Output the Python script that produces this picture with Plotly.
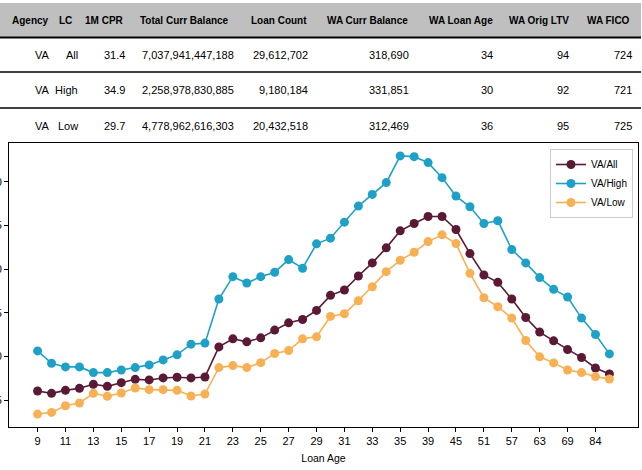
import plotly.graph_objects as go

###############################################################################
# VA 1M CPR by loan age, with the summary table above the line chart
###############################################################################

# --- summary table ---
table_header = ['Agency', 'LC', '1M CPR', 'Total Curr Balance', 'Loan Count',
                'WA Curr Balance', 'WA Loan Age', 'WA Orig LTV', 'WA FICO']
agency = ['VA', 'VA', 'VA']
lc = ['All', 'High', 'Low']
cpr_1m = ['31.4', '34.9', '29.7']
total_curr_balance = ['7,037,941,447,188', '2,258,978,830,885', '4,778,962,616,303']
loan_count = ['29,612,702', '9,180,184', '20,432,518']
wa_curr_balance = ['318,690', '331,851', '312,469']
wa_loan_age = ['34', '30', '36']
wa_orig_ltv = ['94', '92', '95']
wa_fico = ['724', '721', '725']

# --- line chart ---
loan_age = ['9', '10', '11', '12', '13', '14', '15', '16', '17', '18', '19', '20',
            '21', '22', '23', '24', '25', '26', '27', '28', '29', '30', '31', '32',
            '33', '34', '35', '36', '39', '42', '45', '48', '51', '54', '57', '60',
            '63', '66', '69', '72', '84', '96']
cpr_all = [16.07, 15.80, 16.14, 16.37, 16.83, 16.60, 17.02, 17.40, 17.33, 17.56,
           17.64, 17.56, 17.67, 21.11, 22.03, 21.69, 22.14, 23.03, 23.86, 24.24,
           25.28, 27.00, 27.61, 29.22, 30.71, 32.43, 34.38, 35.22, 36.02, 36.02,
           34.53, 31.78, 29.33, 28.49, 26.58, 24.47, 22.80, 21.80, 20.80, 19.89,
           18.70, 18.02]
cpr_high = [20.65, 19.24, 18.82, 18.82, 18.17, 18.17, 18.47, 18.74, 19.05, 19.62,
            20.20, 21.42, 21.54, 26.58, 29.14, 28.41, 29.14, 29.64, 31.09, 30.10,
            32.89, 33.54, 35.37, 37.21, 38.54, 39.89, 42.94, 42.86, 42.18, 40.46,
            38.35, 37.13, 35.22, 35.53, 32.24, 30.71, 29.03, 27.69, 26.81, 24.40,
            22.53, 20.31]
cpr_low = [13.43, 13.62, 14.38, 14.69, 15.80, 15.46, 15.84, 16.41, 16.22, 16.22,
           16.14, 15.49, 15.72, 18.74, 18.97, 18.74, 19.31, 20.35, 20.69, 22.03,
           22.26, 24.59, 24.90, 26.39, 27.99, 29.71, 31.01, 31.93, 33.15, 33.92,
           32.92, 29.52, 26.73, 25.70, 24.40, 21.84, 19.97, 19.28, 18.47, 18.17,
           17.71, 17.44]
series_names = ['VA/All', 'VA/High', 'VA/Low']
series_colors = ['#5a1a35', '#1fa0c6', '#f8b055']

FONT = 'Liberation Sans, Arial, sans-serif'
W, H = 642, 470
ML, MR, MT, MB = 9, 4, 0, 43


def px_x(x):
    # pixel -> paper coordinate (horizontal)
    return (x - ML) / (W - ML - MR)


def px_y(y):
    # pixel -> paper coordinate (vertical)
    return (H - MB - y) / (H - MT - MB)


def make_table():
    columns = [agency, lc, cpr_1m, total_curr_balance, loan_count,
               wa_curr_balance, wa_loan_age, wa_orig_ltv, wa_fico]
    head_right = [50, 73, 125, 230, 308, 409, 494, 570, 631]
    cell_right = [51, 79, 126, 235, 309, 410, 494, 570, 633]
    row_y = [55, 90, 126]

    annotations = []
    for h, xr in zip(table_header, head_right):
        annotations.append(dict(text='<b>%s</b>' % h, x=px_x(xr), y=px_y(20),
                                xref='paper', yref='paper', xanchor='right',
                                yanchor='middle', showarrow=False, borderpad=0,
                                font=dict(size=10, color='black')))
    for col, xr in zip(columns, cell_right):
        for v, yy in zip(col, row_y):
            annotations.append(dict(text=v, x=px_x(xr), y=px_y(yy),
                                    xref='paper', yref='paper', xanchor='right',
                                    yanchor='middle', showarrow=False, borderpad=0,
                                    font=dict(size=11, color='black')))

    shapes = [dict(type='rect', xref='paper', yref='paper', layer='below',
                   x0=px_x(0), x1=px_x(641), y0=px_y(37), y1=px_y(3),
                   fillcolor='#bfbfbf', line=dict(width=0))]
    for yy, lw in [(37.5, 2), (72, 1.5), (108, 1.5)]:
        shapes.append(dict(type='line', xref='paper', yref='paper',
                           x0=px_x(0), x1=px_x(641), y0=px_y(yy), y1=px_y(yy),
                           line=dict(color='black', width=lw)))
    return annotations, shapes


def make_lineplot():
    traces = [go.Scatter(x=loan_age, y=y, name=n, mode='lines+markers',
                         line=dict(color=c, width=1.6),
                         marker=dict(color=c, size=9))
              for y, n, c in zip([cpr_all, cpr_high, cpr_low], series_names, series_colors)]
    annotations, shapes = make_table()
    axis_style = dict(showline=True, mirror=True, linecolor='black', linewidth=1,
                      ticks='outside', ticklen=4, tickcolor='black',
                      showgrid=False, zeroline=False, automargin=False,
                      tickfont=dict(size=11, color='black'))
    layout = go.Layout(
        template='none',
        width=W, height=H,
        margin=dict(l=ML, r=MR, t=MT, b=MB),
        font=dict(family=FONT, color='black'),
        paper_bgcolor='white', plot_bgcolor='white',
        xaxis=dict(type='category', categoryorder='array', categoryarray=loan_age,
                   range=[-2.05, len(loan_age) + 1.05], tickmode='array',
                   tickvals=loan_age[::2],
                   title=dict(text='Loan Age', font=dict(size=10.5), standoff=8),
                   **axis_style),
        yaxis=dict(range=[11.95, 44.42], tick0=0, dtick=5,
                   domain=[0, px_y(143)], **axis_style),
        legend=dict(x=px_x(633), xanchor='right', y=px_y(149), yanchor='top',
                    bordercolor='#cccccc', borderwidth=1, bgcolor='white',
                    itemwidth=30, font=dict(size=10)),
        showlegend=True,
        annotations=annotations,
        shapes=shapes,
    )
    return go.Figure(data=traces, layout=layout)


if __name__ == '__main__':
    fig = make_lineplot()
    # page body has a default margin; drop it so the figure fills the window
    fig.write_html('out.html', config={'displayModeBar': False},
                   post_script="document.body.style.margin='0';")
